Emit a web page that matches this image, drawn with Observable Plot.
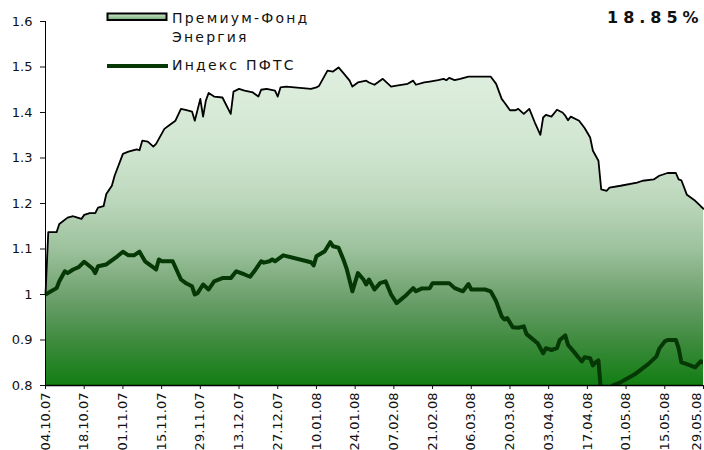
<!DOCTYPE html>
<html>
<head>
<meta charset="utf-8">
<script src="https://cdn.jsdelivr.net/npm/d3@7"></script>
<script src="https://cdn.jsdelivr.net/npm/@observablehq/plot@0.6"></script>
<style>
  html, body { margin: 0; padding: 0; background: #fff; }
  #wrap { position: relative; width: 704px; height: 450px; font-family: "DejaVu Sans", Verdana, sans-serif; color: #111; }
  #chart { position: absolute; left: 0; top: 0; }
  .leg { position: absolute; font-size: 14px; letter-spacing: 2.2px; line-height: 19px; color: #111; }
  #pct { position: absolute; left: 607px; top: 8px; font-size: 16px; font-weight: bold; letter-spacing: 5px; color: #111; }
</style>
</head>
<body>
<div id="wrap">
  <div id="chart"></div>
  <svg style="position:absolute;left:105px;top:11px" width="66" height="62">
    <defs>
      <linearGradient id="legGrad" x1="0" y1="0" x2="0" y2="1">
        <stop offset="0" stop-color="#d6ebd6"/>
        <stop offset="1" stop-color="#6fa86f"/>
      </linearGradient>
    </defs>
    <rect x="2.5" y="2.5" width="59" height="6.5" fill="url(#legGrad)" stroke="#000" stroke-width="2"/>
    <line x1="2" y1="55" x2="63" y2="55" stroke="#053805" stroke-width="4"/>
  </svg>
  <div class="leg" style="left:172px;top:9px;">Премиум-Фонд<br>Энергия</div>
  <div class="leg" style="left:172px;top:56px;">Индекс ПФТС</div>
  <div id="pct">18.85%</div>
</div>
<script>
// X tick labels (every two weeks)
const tickLabels = ["04.10.07","18.10.07","01.11.07","15.11.07","29.11.07","13.12.07","27.12.07","10.01.08","24.01.08","07.02.08","21.02.08","06.03.08","20.03.08","03.04.08","17.04.08","01.05.08","15.05.08","29.05.08"];
const yTicks = [0.8, 0.9, 1.0, 1.1, 1.2, 1.3, 1.4, 1.5, 1.6];

// Премиум-Фонд Энергия: days since 04.10.07 and value
const fundDays = [0,1,4,5,8,10,11,13,14,16,18,19,21,22,24,25,28,30,33,34,35,37,39,40,43,45,47,49,51,53,54,56,57,58,59,61,64,67,68,70,72,75,77,78,80,83,84,85,87,96,98,99,102,104,106,108,110,111,113,116,117,119,122,125,127,131,133,134,137,139,142,144,145,146,148,150,153,161,163,165,166,168,170,171,173,175,177,179,180,181,183,185,187,188,189,190,193,195,197,198,200,201,203,204,208,214,216,220,222,225,228,229,230,232,235,237,238];
const fundValues = [1.000,1.137,1.137,1.155,1.169,1.172,1.170,1.166,1.175,1.179,1.179,1.191,1.194,1.221,1.239,1.261,1.309,1.314,1.319,1.317,1.338,1.336,1.325,1.331,1.364,1.373,1.382,1.408,1.405,1.402,1.382,1.430,1.391,1.426,1.443,1.435,1.433,1.397,1.446,1.452,1.448,1.444,1.435,1.450,1.452,1.448,1.435,1.455,1.457,1.452,1.455,1.459,1.492,1.490,1.499,1.485,1.470,1.457,1.466,1.470,1.466,1.461,1.474,1.457,1.459,1.463,1.470,1.461,1.466,1.468,1.471,1.474,1.471,1.476,1.471,1.474,1.479,1.479,1.463,1.430,1.422,1.405,1.405,1.408,1.397,1.408,1.378,1.351,1.389,1.395,1.391,1.406,1.400,1.393,1.383,1.391,1.382,1.366,1.345,1.316,1.294,1.231,1.228,1.235,1.239,1.246,1.250,1.253,1.261,1.267,1.267,1.253,1.251,1.219,1.206,1.194,1.1885];

// Индекс ПФТС (normalised): days since 04.10.07 and value
const indexDays = [0,2,4,5,7,8,10,12,14,15,17,18,19,22,24,26,28,30,32,34,36,38,40,41,42,46,49,51,53,54,55,57,59,61,64,67,69,72,74,76,78,79,81,82,83,86,96,97,98,101,103,104,106,108,109,111,113,115,116,117,119,121,123,125,127,130,133,134,136,139,140,146,148,151,153,154,159,161,163,165,166,167,169,171,173,174,175,178,180,181,183,185,186,188,189,191,193,194,195,197,198,199,200,201,203,205,208,213,218,221,222,224,225,228,229,230,232,235,237,238];
const indexValues = [1.000,1.007,1.014,1.029,1.051,1.047,1.055,1.060,1.072,1.067,1.057,1.047,1.062,1.066,1.075,1.084,1.094,1.086,1.086,1.094,1.073,1.064,1.055,1.077,1.073,1.073,1.033,1.024,1.018,1.000,1.003,1.022,1.011,1.029,1.036,1.036,1.051,1.044,1.039,1.055,1.073,1.070,1.073,1.077,1.073,1.086,1.071,1.064,1.084,1.095,1.115,1.106,1.103,1.073,1.055,1.007,1.047,1.033,1.022,1.033,1.011,1.025,1.029,1.000,0.981,0.996,1.014,1.007,1.013,1.014,1.025,1.025,1.014,1.007,1.023,1.011,1.011,1.007,0.985,0.952,0.945,0.948,0.928,0.927,0.930,0.913,0.908,0.893,0.871,0.882,0.878,0.882,0.900,0.910,0.889,0.875,0.860,0.853,0.862,0.860,0.844,0.851,0.855,0.780,0.775,0.800,0.807,0.824,0.847,0.864,0.881,0.897,0.900,0.900,0.882,0.851,0.847,0.840,0.853,0.850];

const parse = d3.utcParse("%d.%m.%y");
const tickDates = tickLabels.map(parse);
const start = tickDates[0];
const end = tickDates[tickDates.length - 1];
const fund = fundDays.map((d, i) => ({date: d3.utcDay.offset(start, d), v: fundValues[i]}));
const index = indexDays.map((d, i) => ({date: d3.utcDay.offset(start, d), v: indexValues[i]}));

const chart = Plot.plot({
  width: 704,
  height: 450,
  marginLeft: 45,
  marginRight: 1,
  marginTop: 21,
  marginBottom: 65,
  style: {fontFamily: "DejaVu Sans, Verdana, sans-serif", fontSize: "13px", color: "#111", background: "transparent"},
  x: {type: "utc", domain: [start, end]},
  y: {domain: [0.8, 1.6]},
  marks: [
    Plot.areaY(fund, {x: "date", y1: 0.8, y2: "v", fill: "url(#fundGrad)", curve: "linear"}),
    Plot.line(fund, {x: "date", y: "v", stroke: "#000", strokeWidth: 1.8, strokeLinejoin: "round"}),
    Plot.line(index, {x: "date", y: "v", stroke: "#053805", strokeWidth: 4, strokeLinejoin: "round", clip: true}),
    Plot.ruleX([start], {stroke: "#000", strokeWidth: 1}),
    Plot.ruleY([0.8], {stroke: "#000", strokeWidth: 1.5}),
    Plot.axisY({ticks: yTicks, tickFormat: d3.format("~g"), tickSize: 5, tickPadding: 8, label: null}),
    Plot.axisX({ticks: tickDates, tickFormat: d3.utcFormat("%d.%m.%y"), tickRotate: -90, tickSize: 4, tickPadding: 3, label: null})
  ]
});

const ns = "http://www.w3.org/2000/svg";
const defs = document.createElementNS(ns, "defs");
const grad = document.createElementNS(ns, "linearGradient");
grad.setAttribute("id", "fundGrad");
grad.setAttribute("x1", "0"); grad.setAttribute("y1", "0");
grad.setAttribute("x2", "0"); grad.setAttribute("y2", "1");
[[0, "#e0efe0"], [0.26, "#d0e5d0"], [0.42, "#bcd7bc"], [0.575, "#9cc19c"], [0.73, "#6b9f6b"], [0.86, "#3f8b3f"], [1, "#127e12"]].forEach(([o, c]) => {
  const s = document.createElementNS(ns, "stop");
  s.setAttribute("offset", o);
  s.setAttribute("stop-color", c);
  grad.appendChild(s);
});
defs.appendChild(grad);
chart.insertBefore(defs, chart.firstChild);

// keep the last date label inside the picture
const xLabels = chart.querySelectorAll('[aria-label="x-axis tick label"] text');
if (xLabels.length) {
  const last = xLabels[xLabels.length - 1];
  const tr = last.getAttribute("transform") || "";
  last.setAttribute("transform", "translate(-7,0) " + tr);
}
document.getElementById("chart").appendChild(chart);
</script>
</body>
</html>
